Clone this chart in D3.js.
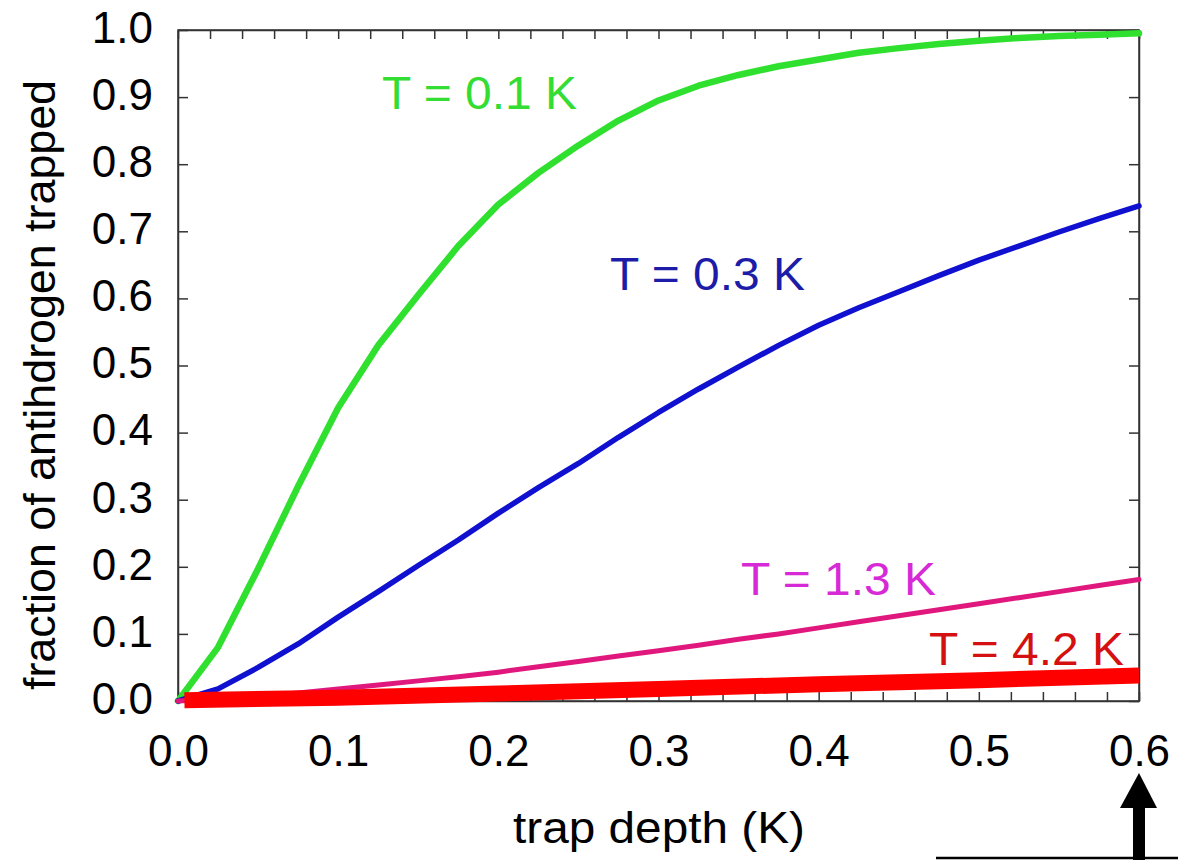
<!DOCTYPE html>
<html>
<head>
<meta charset="utf-8">
<script src="https://cdn.jsdelivr.net/npm/d3@7"></script>
<style>
	body { margin: 0; background: #fff; }
	svg { display: block; font-family: "Liberation Sans", Arial, sans-serif; }
</style>
</head>
<body>
<svg id="chart" width="1178" height="860"></svg>
<script>
const width = 1178,
	height = 860;

// trap depth (K)
const depth = [0, 0.025, 0.05, 0.075, 0.1, 0.125, 0.15, 0.175, 0.2, 0.225, 0.25, 0.275, 0.3,
	0.325, 0.35, 0.375, 0.4, 0.425, 0.45, 0.475, 0.5, 0.525, 0.55, 0.575, 0.6];

// fraction trapped
const t01 = [0, 0.08, 0.197, 0.32, 0.437, 0.53, 0.605, 0.678, 0.74, 0.787, 0.828, 0.865, 0.895,
	0.917, 0.933, 0.946, 0.956, 0.966, 0.973, 0.979, 0.984, 0.988, 0.991, 0.993, 0.995];
const t03 = [0, 0.018, 0.05, 0.085, 0.125, 0.163, 0.202, 0.24, 0.28, 0.318, 0.354, 0.393, 0.43,
	0.465, 0.498, 0.53, 0.56, 0.586, 0.61, 0.634, 0.657, 0.678, 0.699, 0.719, 0.738];
const t13 = [0, 0.003, 0.007, 0.012, 0.018, 0.024, 0.03, 0.036, 0.043, 0.051, 0.059, 0.067, 0.075,
	0.083, 0.092, 0.1, 0.109, 0.118, 0.127, 0.136, 0.145, 0.154, 0.163, 0.172, 0.181];

const depth42 = [0.004, 0.1, 0.2, 0.3, 0.4, 0.5, 0.6];
const t42 = [0.001, 0.005, 0.011, 0.018, 0.025, 0.031, 0.038];

const labels = ["T = 0.1 K", "T = 0.3 K", "T = 1.3 K", "T = 4.2 K"];
const labelX = [0.1274, 0.2697, 0.3515, 0.4689];
const labelY = [0.882, 0.6125, 0.158, 0.0537];

const xTicks = d3.range(0, 31).map(i => i / 50);
const yTicks = d3.range(0, 11).map(i => i / 10);

const xScale = d3.scaleLinear()
	.domain([0, 0.6])
	.range([178, 1139]);

const yScale = d3.scaleLinear()
	.domain([0, 1])
	.range([701, 30]);

const line = d3.line()
	.x(d => xScale(d.x))
	.y(d => yScale(d.y));

const chart = d3.select("#chart");

// frame
chart.append("rect")
	.attr("x", xScale(0))
	.attr("y", yScale(1))
	.attr("width", xScale(0.6) - xScale(0))
	.attr("height", yScale(0) - yScale(1))
	.attr("fill", "none")
	.attr("stroke", "#333")
	.attr("stroke-width", 1.5);

const fmtX = d => (Math.round(d * 50) % 5 === 0) ? d.toFixed(1) : "";

chart.append("g")
	.attr("transform", `translate(0,${yScale(0)})`)
	.call(d3.axisBottom(xScale).tickValues(xTicks).tickSizeInner(-9).tickSizeOuter(0)
		.tickPadding(34).tickFormat(fmtX));

chart.append("g")
	.attr("transform", `translate(0,${yScale(1)})`)
	.call(d3.axisTop(xScale).tickValues(xTicks).tickSizeInner(-9).tickSizeOuter(0).tickFormat(""));

const left = chart.append("g")
	.attr("transform", `translate(${xScale(0)},0)`)
	.call(d3.axisLeft(yScale).tickValues(yTicks).tickSizeInner(-10).tickSizeOuter(0)
		.tickPadding(25).tickFormat(d3.format(".1f")));

chart.append("g")
	.attr("transform", `translate(${xScale(0.6)},0)`)
	.call(d3.axisRight(yScale).tickValues(yTicks).tickSizeInner(-10).tickSizeOuter(0).tickFormat(""));

chart.selectAll(".domain").attr("stroke", "#333").attr("stroke-width", 1.5);
chart.selectAll(".tick line").attr("stroke", "#333").attr("stroke-width", 1.5);
chart.selectAll(".tick text")
	.attr("font-family", "Liberation Sans, Arial, sans-serif")
	.attr("font-size", 44)
	.attr("fill", "#000");
left.selectAll(".tick text").attr("dy", "0.28em");

// curves
const series = [
	{xs: depth, ys: t01, color: "#2fe02f", w: 6.5, cap: "round"},
	{xs: depth, ys: t03, color: "#1010d0", w: 5.5, cap: "round"},
	{xs: depth, ys: t13, color: "#e0187e", w: 5, cap: "round"},
	{xs: depth42, ys: t42, color: "#ff0000", w: 16, cap: "butt"}
];

chart.selectAll("path.curve")
	.data(series)
	.join("path")
	.attr("class", "curve")
	.attr("fill", "none")
	.attr("stroke", d => d.color)
	.attr("stroke-width", d => d.w)
	.attr("stroke-linecap", d => d.cap)
	.attr("stroke-linejoin", "round")
	.attr("d", d => line(d.xs.map((x, i) => ({x: x, y: d.ys[i]}))));

// curve labels
const labelColors = ["#33dd33", "#1c1ca8", "#d62ad6", "#d41010"];

chart.selectAll("text.curve-label")
	.data(labels)
	.join("text")
	.attr("class", "curve-label")
	.attr("x", (d, i) => xScale(labelX[i]))
	.attr("y", (d, i) => yScale(labelY[i]))
	.attr("font-size", 46)
	.attr("textLength", 195)
	.attr("lengthAdjust", "spacingAndGlyphs")
	.attr("fill", (d, i) => labelColors[i])
	.text(d => d);

// axis titles
chart.append("text")
	.attr("x", 659)
	.attr("y", 843)
	.attr("text-anchor", "middle")
	.attr("font-size", 44)
	.attr("textLength", 292)
	.attr("lengthAdjust", "spacingAndGlyphs")
	.text("trap depth (K)");

chart.append("text")
	.attr("transform", "translate(55,385) rotate(-90)")
	.attr("text-anchor", "middle")
	.attr("font-size", 44)
	.attr("textLength", 610)
	.attr("lengthAdjust", "spacingAndGlyphs")
	.text("fraction of antihdrogen trapped");

// arrow pointing at 0.6 K
const ax = xScale(0.6);
chart.append("line")
	.attr("x1", 936).attr("x2", width)
	.attr("y1", 858).attr("y2", 858)
	.attr("stroke", "#000")
	.attr("stroke-width", 2.5);

chart.append("rect")
	.attr("x", ax - 6).attr("y", 806)
	.attr("width", 12).attr("height", height - 806)
	.attr("fill", "#000");

chart.append("path")
	.attr("d", `M${ax},773 L${ax + 18},808 L${ax - 19},808 Z`)
	.attr("fill", "#000");
</script>
</body>
</html>
